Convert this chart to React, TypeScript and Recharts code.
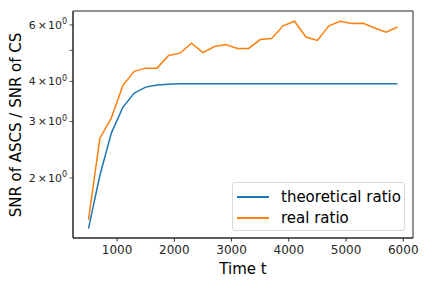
import React from "react"
import { LineChart, Line, XAxis, YAxis, Legend, ReferenceArea } from "recharts"

// sample times (every 200 steps)
const times = [
  500, 700, 900, 1100, 1300, 1500, 1700, 1900, 2100, 2300, 2500, 2700, 2900, 3100,
  3300, 3500, 3700, 3900, 4100, 4300, 4500, 4700, 4900, 5100, 5300, 5500, 5700, 5900,
]
const theoretical = [
  1.39, 2.04, 2.76, 3.32, 3.68, 3.84, 3.9, 3.92, 3.93, 3.93, 3.93, 3.93, 3.93, 3.93,
  3.93, 3.93, 3.93, 3.93, 3.93, 3.93, 3.93, 3.93, 3.93, 3.93, 3.93, 3.93, 3.93, 3.93,
]
const real = [
  1.48, 2.66, 3.08, 3.88, 4.3, 4.4, 4.4, 4.82, 4.9, 5.26, 4.92, 5.14, 5.21, 5.07,
  5.07, 5.4, 5.44, 5.96, 6.16, 5.5, 5.37, 5.96, 6.16, 6.06, 6.07, 5.87, 5.69, 5.91,
]
const xTicks = [1000, 2000, 3000, 4000, 5000, 6000]
const yTicks = [2, 3, 4, 5, 6]
const yLabelled = [2, 3, 4, 6]
const xDomain = [230, 6170]
const yDomain = [1.3, 6.63]

const data = times.map((t, i) => ({ t, theoretical: theoretical[i], real: real[i] }))

const font = "'DejaVu Sans', sans-serif"
const BLUE = "#1f77b4"
const ORANGE = "#ff7f0e"
const INK = "#262626"

function YTick(props: any) {
  const { x, y, payload } = props
  const v = payload.value
  return (
    <g>
      <line x1={x - 3.5} x2={x} y1={y} y2={y} stroke={INK} strokeWidth={0.8} />
      {yLabelled.includes(v) && (
        <text x={x - 6} y={y + 4} textAnchor="end" fontSize={11} fill={INK} fontFamily={font}>
          {v}
          <tspan dx={2}>×</tspan>
          <tspan dx={1}>10</tspan>
          <tspan fontSize={8} dy={-4.5}>0</tspan>
        </text>
      )}
    </g>
  )
}

function YLabel() {
  return (
    <text
      x={0}
      y={0}
      transform="translate(21 125) rotate(-90)"
      textAnchor="middle"
      fontSize={15}
      fill="#000"
      fontFamily={font}
    >
      SNR of ASCS / SNR of CS
    </text>
  )
}

function LegendBox() {
  const rows = [
    { label: "theoretical ratio", color: BLUE },
    { label: "real ratio", color: ORANGE },
  ]
  return (
    <div
      style={{
        width: 173,
        height: 49,
        boxSizing: "border-box",
        border: "1px solid #d9d9d9",
        borderRadius: 3,
        background: "rgba(255,255,255,0.8)",
        padding: "3px 0 0 4px",
        fontFamily: font,
        fontSize: 15,
        color: "#000",
      }}
    >
      {rows.map((r) => (
        <div key={r.label} style={{ display: "flex", alignItems: "center", height: 21 }}>
          <span style={{ display: "inline-block", width: 32, height: 2, background: r.color, marginRight: 12 }} />
          <span>{r.label}</span>
        </div>
      ))}
    </div>
  )
}

export default function App() {
  return (
    <div style={{ position: "absolute", left: 0, top: 0, width: 432, height: 288, background: "#fff" }}>
      <LineChart width={432} height={288} data={data} margin={{ top: 11, right: 19, bottom: 0, left: 0 }}>
        <XAxis
          dataKey="t"
          type="number"
          domain={xDomain}
          ticks={xTicks}
          allowDataOverflow
          height={50}
          tick={{ fontSize: 12, fill: INK, fontFamily: font, dy: 2 }}
          tickSize={3.5}
          tickLine={{ stroke: INK }}
          axisLine={{ stroke: INK, strokeWidth: 1 }}
          label={{ value: "Time t", position: "insideBottom", offset: 14, fontSize: 15, fill: "#000", fontFamily: font }}
        />
        <YAxis
          scale="log"
          type="number"
          domain={yDomain}
          allowDataOverflow
          ticks={yTicks}
          width={73}
          tick={<YTick />}
          tickLine={false}
          tickSize={0}
          tickMargin={0}
          axisLine={{ stroke: INK, strokeWidth: 1 }}
          label={<YLabel />}
        />
        <ReferenceArea
          x1={xDomain[0]}
          x2={xDomain[1]}
          y1={yDomain[0]}
          y2={yDomain[1]}
          fill="none"
          fillOpacity={0}
          stroke={INK}
          strokeWidth={1}
          ifOverflow="visible"
        />
        <Line dataKey="theoretical" stroke={BLUE} strokeWidth={1.5} dot={false} isAnimationActive={false} />
        <Line dataKey="real" stroke={ORANGE} strokeWidth={1.5} dot={false} isAnimationActive={false} />
        <Legend
          layout="horizontal"
          verticalAlign="middle"
          align="center"
          content={() => <LegendBox />}
          wrapperStyle={{ position: "absolute", left: 232, top: 182, width: 173 }}
        />
      </LineChart>
    </div>
  )
}
